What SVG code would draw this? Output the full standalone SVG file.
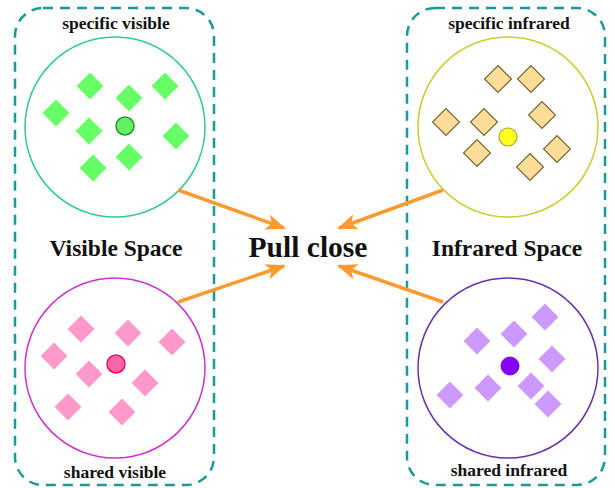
<svg xmlns="http://www.w3.org/2000/svg" width="615" height="488" viewBox="0 0 615 488">
  <style>
    .box { fill: none; stroke: #1a9a96; stroke-width: 2.5; stroke-dasharray: 10 7; }
    .label { font-family: "Liberation Serif", "Times New Roman", serif; font-weight: bold; fill: #111; text-anchor: middle; }
    .small { font-size: 17.5px; }
    .space { font-size: 23.5px; }
    .title { font-size: 29.5px; }
    .pull { stroke: #ff9a33; stroke-width: 3.5; fill: none; marker-end: url(#head); }
    .dg { fill: #66ff66; }
    .dp { fill: #ff99cc; }
    .dy { fill: #ffdd99; stroke: #776633; stroke-width: 1.2; }
    .dv { fill: #cc99ff; }
  </style>
  <defs>
    <marker id="head" viewBox="0 0 20 16" refX="18" refY="8" markerWidth="20" markerHeight="16" markerUnits="userSpaceOnUse" orient="auto">
      <path d="M0,0 L20,8 L0,16 L5,8 Z" fill="#ff9a33"/>
    </marker>
    <rect id="dia" x="-9.5" y="-9.5" width="19" height="19" transform="rotate(45)"/>
  </defs>

  <rect width="615" height="488" fill="#ffffff"/>

  <!-- dashed space frames -->
  <g id="visible-space">
    <rect class="box" x="15" y="8" width="199" height="477" rx="28"/>
    <text class="label space" x="116" y="256">Visible Space</text>
  </g>
  <g id="infrared-space">
    <rect class="box" x="407" y="8" width="198" height="477" rx="28"/>
    <text class="label space" x="507" y="256">Infrared Space</text>
  </g>

  <!-- specific visible cluster -->
  <g id="specific-visible">
    <text class="label small" x="116" y="29">specific visible</text>
    <circle cx="115" cy="127" r="90" fill="none" stroke="#33cc88" stroke-width="1.5"/>
    <g class="dg">
      <use href="#dia" x="56" y="113"/>
      <use href="#dia" x="90" y="86"/>
      <use href="#dia" x="129" y="98"/>
      <use href="#dia" x="165" y="86"/>
      <use href="#dia" x="89" y="131"/>
      <use href="#dia" x="176" y="136"/>
      <use href="#dia" x="93" y="168"/>
      <use href="#dia" x="129" y="157"/>
    </g>
    <circle cx="125" cy="126" r="9" fill="#66ee66" stroke="#229922" stroke-width="1.5"/>
  </g>

  <!-- shared visible cluster -->
  <g id="shared-visible">
    <text class="label small" x="115" y="478">shared visible</text>
    <circle cx="115" cy="368" r="90" fill="none" stroke="#cc33cc" stroke-width="1.5"/>
    <g class="dp">
      <use href="#dia" x="81" y="329"/>
      <use href="#dia" x="128" y="333"/>
      <use href="#dia" x="172" y="342"/>
      <use href="#dia" x="54" y="356"/>
      <use href="#dia" x="89" y="374"/>
      <use href="#dia" x="145" y="383"/>
      <use href="#dia" x="68" y="407"/>
      <use href="#dia" x="122" y="412"/>
    </g>
    <circle cx="116" cy="364" r="9" fill="#ff66aa" stroke="#dd1166" stroke-width="1.5"/>
  </g>

  <!-- specific infrared cluster -->
  <g id="specific-infrared">
    <text class="label small" x="509" y="29">specific infrared</text>
    <circle cx="508" cy="127" r="90" fill="none" stroke="#cccc33" stroke-width="1.5"/>
    <g class="dy">
      <use href="#dia" x="498" y="79"/>
      <use href="#dia" x="531" y="79"/>
      <use href="#dia" x="446" y="122"/>
      <use href="#dia" x="484" y="122"/>
      <use href="#dia" x="542" y="115"/>
      <use href="#dia" x="477" y="153"/>
      <use href="#dia" x="557" y="149"/>
      <use href="#dia" x="530" y="167"/>
    </g>
    <circle cx="508" cy="137" r="9" fill="#ffff22" stroke="#aaaa22" stroke-width="1.2"/>
  </g>

  <!-- shared infrared cluster -->
  <g id="shared-infrared">
    <text class="label small" x="509" y="476">shared infrared</text>
    <circle cx="508" cy="368" r="90" fill="none" stroke="#6633aa" stroke-width="1.5"/>
    <g class="dv">
      <use href="#dia" x="545" y="317"/>
      <use href="#dia" x="514" y="334"/>
      <use href="#dia" x="477" y="341"/>
      <use href="#dia" x="552" y="359"/>
      <use href="#dia" x="450" y="395"/>
      <use href="#dia" x="488" y="388"/>
      <use href="#dia" x="531" y="386"/>
      <use href="#dia" x="548" y="404"/>
    </g>
    <circle cx="510" cy="366" r="9" fill="#8800ff" stroke="#7700dd" stroke-width="1"/>
  </g>

  <!-- centre label -->
  <g id="pull-close">
    <text class="label title" x="308" y="257">Pull close</text>
  </g>

  <!-- connectors -->
  <g id="connectors">
    <line class="pull" x1="178" y1="190" x2="284" y2="228"/>
    <line class="pull" x1="178" y1="302" x2="284" y2="266"/>
    <line class="pull" x1="443" y1="190" x2="339" y2="228"/>
    <line class="pull" x1="443" y1="302" x2="339" y2="266"/>
  </g>
</svg>
